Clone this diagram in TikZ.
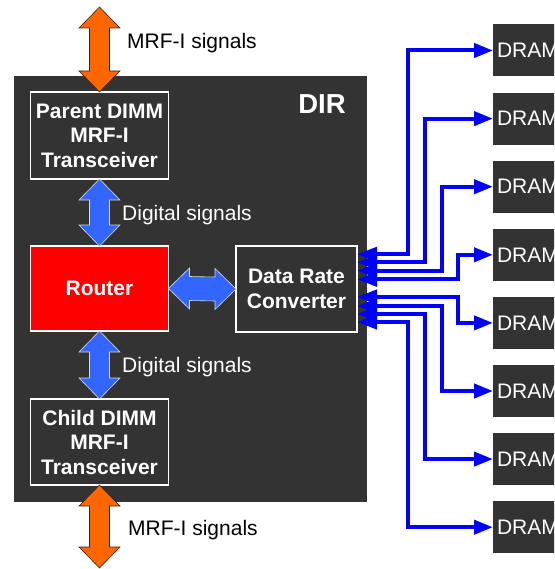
\documentclass[tikz,border=0pt]{standalone}
\usepackage{fontspec}
\setmainfont{Liberation Sans}
\usetikzlibrary{calc,arrows.meta}

\definecolor{panel}{HTML}{333333}
\definecolor{mrforange}{HTML}{FF6600}
\definecolor{digblue}{HTML}{3366FF}
\definecolor{busblue}{HTML}{0000FF}

% vertical block double arrow: style, top tip, bottom tip
\newcommand\vdblarrow[3]{%
  \draw[#1] (#2) -- ++(20.5,21) -- ++(-10.5,0) -- ($(#3)+(10,-21)$) -- ++(10.5,0)
    -- (#3) -- ++(-20.5,-21) -- ++(10.5,0) -- ($(#2)+(-10,21)$) -- ++(-10.5,0) -- cycle;}
% horizontal block double arrow: style, left tip, right tip
\newcommand\hdblarrow[3]{%
  \draw[#1] (#2) -- ++(21,-20.5) -- ++(0,8.5) -- ($(#3)+(-21,-12)$) -- ++(0,-8.5)
    -- (#3) -- ++(-21,20.5) -- ++(0,-8.5) -- ($(#2)+(21,12)$) -- ++(0,8.5) -- cycle;}

\tikzset{
  panelbox/.style={fill=panel, draw=none, inner sep=0pt, outer sep=0pt},
  unit/.style={draw=white, line width=1.5pt, fill=panel, text=white, inner sep=0pt,
    outer sep=0pt, align=center, font=\bfseries\fontsize{21}{24.5}\selectfont},
  dram/.style={fill=panel, draw=none, text=white, anchor=west, minimum height=52pt,
    text width=62pt, inner xsep=4pt, inner ysep=0pt, outer sep=0pt, align=left,
    font=\fontsize{21}{24}\selectfont},
  mrfarrow/.style={fill=mrforange, draw=black!85, line width=0.6pt},
  digarrow/.style={fill=digblue, draw=white!85!black, line width=0.6pt},
  bus/.style={draw=busblue, line width=4pt,
    {Triangle[length=20pt,width=14pt]}-{Triangle[length=19pt,width=14pt]}},
  sig/.style={anchor=west, font=\fontsize{21}{24}\selectfont, inner sep=0pt},
}

\begin{document}
\begin{tikzpicture}[x=1pt, y=-1pt]
\useasboundingbox (0,0) rectangle (554,569);
\clip (0,0) rectangle (554,569);

% DIR panel
\node[panelbox, minimum width=353pt, minimum height=426pt] (dir) at (190.5,289) {};
\node[text=white, font=\bfseries\fontsize{27.5}{30}\selectfont, inner sep=0pt]
  (dirlabel) at (322,104) {DIR};

% functional units
\node[unit, minimum width=138pt, minimum height=87pt] (parent) at (99.5,135.5)
  {Parent DIMM\\MRF-I\\Transceiver};
\node[unit, fill=red, minimum width=138pt, minimum height=85pt] (router) at (99.5,288.5)
  {Router};
\node[unit, minimum width=121pt, minimum height=86pt] (drc) at (296.5,289)
  {Data Rate\\Converter};
\node[unit, minimum width=138pt, minimum height=86pt] (child) at (99.5,442)
  {Child DIMM\\MRF-I\\Transceiver};

% MRF-I links
\coordinate (mrftop) at (99.5,7);
\coordinate (mrfbot) at (99.5,568);
\vdblarrow{mrfarrow}{mrftop}{parent.north}
\vdblarrow{mrfarrow}{child.south}{mrfbot}
\node[sig] (mrfA) at (127,43.5) {MRF-I signals};
\node[sig] (mrfB) at (128,530) {MRF-I signals};

% digital links
\vdblarrow{digarrow}{parent.south}{router.north}
\vdblarrow{digarrow}{router.south}{child.north}
\hdblarrow{digarrow}{router.east}{drc.west}
\node[sig, text=white] (digA) at (122,215) {Digital signals};
\node[sig, text=white] (digB) at (122,367) {Digital signals};

% DRAM devices
\foreach \i/\y in {1/50.5, 2/118.6, 3/186.7, 4/254.8, 5/322.9, 6/391, 7/459.1, 8/527.2}
  \node[dram] (d\i) at (493,\y) {DRAM};

% converter ports and buses
\foreach \i/\o in {1/-34.7, 2/-26.7, 3/-18.3, 4/-9.7, 5/8, 6/17, 7/25, 8/33}
  \coordinate (p\i) at ($(drc.east)+(0,\o)$);
\foreach \i/\dx in {1/-85, 2/-68, 3/-51, 4/-35, 5/-35, 6/-51, 7/-68, 8/-85}
  \draw[bus] (p\i) -| ($(d\i.west)+(\dx,0)$) -- (d\i.west);
\end{tikzpicture}
\end{document}
